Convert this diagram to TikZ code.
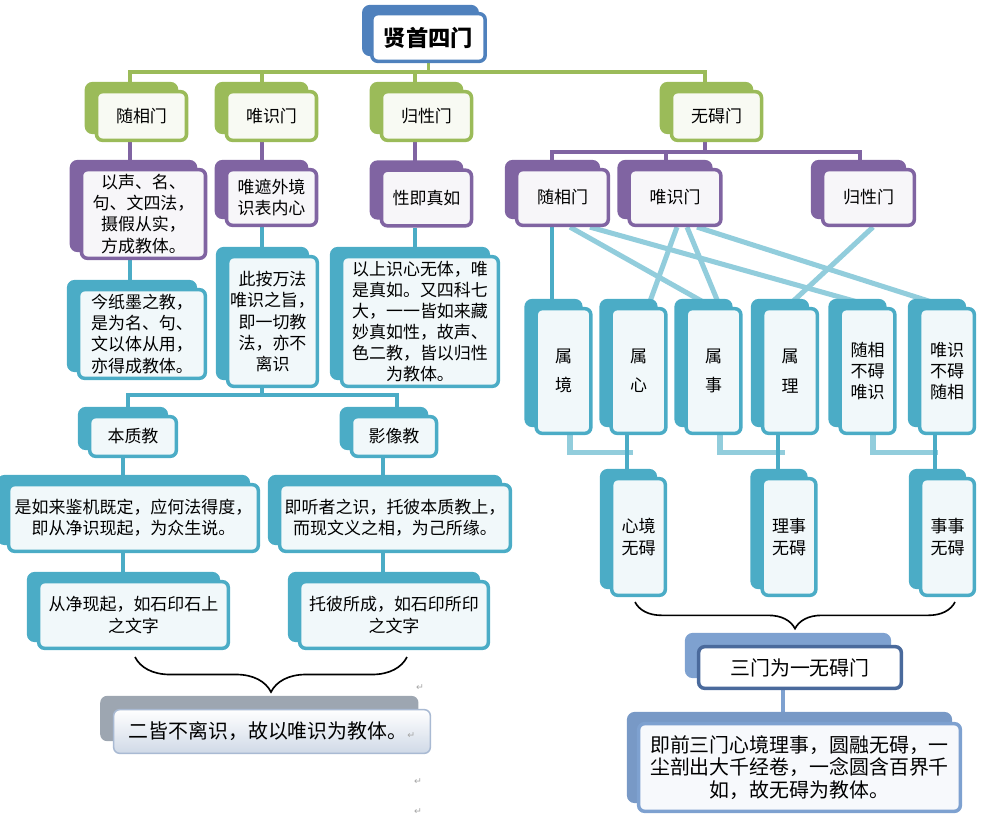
\documentclass[tikz,border=0pt]{standalone}
\usepackage{fontspec}
\setmainfont{Noto Sans CJK SC}
\newfontfamily\symfont{DejaVu Sans}
\usetikzlibrary{calc,shadows,backgrounds,decorations.pathreplacing}
\definecolor{gcol}{RGB}{155,187,89}
\definecolor{pcol}{RGB}{128,100,162}
\definecolor{bcol}{RGB}{75,172,198}
\definecolor{lcol}{RGB}{146,205,220}
\definecolor{tcol}{RGB}{79,129,189}
\definecolor{graycol}{RGB}{157,166,177}
\definecolor{grayedge}{RGB}{169,186,211}
\definecolor{scol}{RGB}{74,106,156}
\definecolor{slight}{RGB}{126,161,208}

\begin{document}
\begin{tikzpicture}[x=0.03cm,y=-0.03cm,
    box/.style={rounded corners=0.18cm,line width=3pt,align=center,inner sep=2pt,font=\fontsize{14.5}{18}\selectfont},
    gbox/.style={box,draw=gcol,fill=gcol!7,copy shadow={shadow xshift=-0.3cm,shadow yshift=0.24cm,fill=gcol,draw=gcol}},
    pbox/.style={box,draw=pcol,fill=pcol!6,copy shadow={shadow xshift=-0.3cm,shadow yshift=0.24cm,fill=pcol,draw=pcol}},
    bbox/.style={box,draw=bcol,fill=bcol!8,copy shadow={shadow xshift=-0.3cm,shadow yshift=0.24cm,fill=bcol,draw=bcol}},
    tbox/.style={box,draw=tcol,fill=white,font=\fontsize{19}{22}\selectfont\bfseries,copy shadow={shadow xshift=-0.24cm,shadow yshift=0.21cm,fill=tcol,draw=tcol}},
    grbox/.style={box,line width=1.3pt,draw=grayedge,top color=white,bottom color=grayedge!55,font=\fontsize{17}{20}\selectfont,copy shadow={shadow xshift=-0.38cm,shadow yshift=0.39cm,fill=graycol,draw=graycol}},
    sbox/.style={box,draw=scol,fill=white,font=\fontsize{17}{20}\selectfont,copy shadow={shadow xshift=-0.36cm,shadow yshift=0.36cm,fill=slight,draw=slight}},
    fbox/.style={box,draw=slight,fill=slight!6,font=\fontsize{17}{19}\selectfont,copy shadow={shadow xshift=-0.3cm,shadow yshift=0.3cm,fill=slight!95!black,draw=slight!95!black}},
    gsz/.style={minimum width=2.7cm,minimum height=1.46cm},
    rsz/.style={minimum width=2.75cm,minimum height=1.67cm},
    tall/.style={minimum width=1.64cm,minimum height=3.74cm},
    low/.style={minimum width=1.61cm,minimum height=3.5cm},
    gline/.style={draw=gcol,line width=3.2pt},
    pline/.style={draw=pcol,line width=3.2pt},
    bline/.style={draw=bcol,line width=3pt},
    lline/.style={draw=lcol,line width=4.3pt},
    sline/.style={draw=slight,line width=3.2pt},
    brc/.style={decorate,decoration={brace,mirror,amplitude=#1},line width=1.4pt},
    pmark/.style={font=\symfont\fontsize{8}{8}\selectfont,text=gray!70,inner sep=0pt}]
  \useasboundingbox (0,0) rectangle (982,824);
  \node[tbox,minimum width=3.4cm,minimum height=1.43cm] (title) at (428.5,37.5) {贤首四门};
  \node[gbox,gsz] (sui1) at (141.5,116) {随相门};
  \node[gbox,gsz] (wei1) at (271.5,116) {唯识门};
  \node[gbox,gsz] (gui1) at (426.5,116) {归性门};
  \node[gbox,gsz] (wuai) at (716.5,116) {无碍门};
  \node[pbox,minimum width=3.72cm,minimum height=2.66cm] (p1) at (143.5,214) {以声、名、\\句、文四法，\\摄假从实，\\方成教体。};
  \node[pbox,minimum width=2.7cm,minimum height=1.67cm] (p2) at (271.5,197.5) {唯遮外境\\识表内心};
  \node[pbox,minimum width=2.7cm,minimum height=1.67cm] (p3) at (426.5,198) {性即真如};
  \node[pbox,rsz] (pR1) at (562.5,197.5) {随相门};
  \node[pbox,rsz] (pR2) at (675,197.5) {唯识门};
  \node[pbox,rsz] (pR3) at (868.5,197.5) {归性门};
  \node[bbox,minimum width=3.8cm,minimum height=2.66cm] (b1) at (142,334) {今纸墨之教，\\是为名、句、\\文以体从用，\\亦得成教体。};
  \node[bbox,minimum width=2.63cm,minimum height=3.89cm] (b2) at (272.5,321.5) {此按万法\\唯识之旨，\\即一切教\\法，亦不\\离识};
  \node[bbox,minimum width=4.7cm,minimum height=3.89cm] (b3) at (420,321.5) {以上识心无体，唯\\是真如。又四科七\\大，一一皆如来藏\\妙真如性，故声、\\色二教，皆以归性\\为教体。};
  \node[bbox,minimum width=2.6cm,minimum height=1.19cm] (bz) at (133,436.5) {本质教};
  \node[bbox,minimum width=2.55cm,minimum height=1.19cm] (yx) at (394,436.5) {影像教};
  \node[bbox,minimum width=7.49cm,minimum height=2cm] (bz2) at (133.5,518) {是如来鉴机既定，应何法得度，\\即从净识现起，为众生说。};
  \node[bbox,minimum width=6.92cm,minimum height=2cm] (yx2) at (395,518) {即听者之识，托彼本质教上，\\而现文义之相，为己所缘。};
  \node[bbox,minimum width=5.69cm,minimum height=2cm] (bz3) at (133.5,615) {从净现起，如石印石上\\之文字};
  \node[bbox,minimum width=5.66cm,minimum height=2cm] (yx3) at (394,615) {托彼所成，如石印所印\\之文字};
  \node[grbox,minimum width=9.5cm,minimum height=1.31cm] (gr) at (272,731.5) {二皆不离识，故以唯识为教体。{\symfont\fontsize{8}{8}\selectfont\color{gray!70}↵}};
  \node[bbox,tall] (s1) at (563.5,371) {属\\[7pt]境};
  \node[bbox,tall] (s2) at (638.5,371) {属\\[7pt]心};
  \node[bbox,tall] (s3) at (713.5,371) {属\\[7pt]事};
  \node[bbox,tall] (s4) at (790,371) {属\\[7pt]理};
  \node[bbox,tall] (s5) at (867.5,371) {随相\\不碍\\唯识};
  \node[bbox,tall] (s6) at (947,371) {唯识\\不碍\\随相};
  \node[bbox,low] (w1) at (638.5,537) {心境\\无碍};
  \node[bbox,low] (w2) at (789,537) {理事\\无碍};
  \node[bbox,low] (w3) at (947.5,537) {事事\\无碍};
  \node[sbox,minimum width=6.08cm,minimum height=1.25cm] (sm) at (800,667.5) {三门为一无碍门};
  \node[fbox,minimum width=9.65cm,minimum height=2.63cm] (fin) at (799.5,767.5) {即前三门心境理事，圆融无碍，一\\尘剖出大千经卷，一念圆含百界千\\如，故无碍为教体。};
  \coordinate (brL1) at (135,657);
  \coordinate (brL2) at (407,657);
  \coordinate (brR1) at (635,602);
  \coordinate (brR2) at (955,602);
  \draw[brc=1.05cm] (brL1) -- (brL2);
  \draw[brc=0.8cm] (brR1) -- (brR2);
  \node[pmark] (pm1) at (420,688) {↵};
  \node[pmark] (pm2) at (418,782) {↵};
  \node[pmark] (pm3) at (418,812) {↵};
  \begin{scope}[on background layer]
    \foreach \n/\dx in {sui1/-11.5,wei1/-9.5,gui1/-11.5,wuai/-11.5}
      \draw[gline] (title.south) -- ++(0,9) -| ($(\n.north)+(\dx,0)$);
    \draw[pline] ($(sui1.south)+(-11.5,0)$) -- ($(sui1.south |- p1.north)+(-11.5,0)$);
    \draw[pline] ($(wei1.south)+(-9.5,0)$) -- ($(wei1.south |- p2.north)+(-9.5,0)$);
    \draw[pline] ($(gui1.south)+(-11.5,0)$) -- ($(gui1.south |- p3.north)+(-11.5,0)$);
    \foreach \n/\dx in {pR1/-10.5,pR2/-9,pR3/-8.5}
      \draw[pline] ($(wuai.south)+(-11.5,0)$) -- ++(0,10) -| ($(\n.north)+(\dx,0)$);
    \draw[bline] ($(p1.south)+(-13.5,0)$) -- ($(p1.south |- b1.north)+(-13.5,0)$);
    \draw[bline] ($(p2.south)+(-9.5,0)$) -- ($(p2.south |- b2.north)+(-9.5,0)$);
    \draw[bline] ($(p3.south)+(-11.5,0)$) -- ($(p3.south |- b3.north)+(-11.5,0)$);
    \draw[bline] ($(b2.south)+(-10.5,0)$) -- ++(0,7) -| ($(bz.north)+(-5,0)$);
    \draw[bline] ($(b2.south)+(-10.5,0)$) -- ++(0,7) -| ($(yx.north)+(3,0)$);
    \draw[bline] ($(bz.south)+(-10,0)$) -- ($(bz.south |- bz2.north)+(-10,0)$);
    \draw[bline] ($(bz2.south)+(-10.5,0)$) -- ($(bz2.south |- bz3.north)+(-10.5,0)$);
    \draw[bline] ($(yx.south)+(-11,0)$) -- ($(yx.south |- yx2.north)+(-11,0)$);
    \draw[bline] ($(yx2.south)+(-12,0)$) -- ($(yx2.south |- yx3.north)+(-12,0)$);
    \draw[bline] ($(pR1.south)+(-10.5,0)$) -- ($(pR1.south |- s1.north)+(-10.5,0)$);
    \draw[lline] ($(pR1.south)+(7.5,0)$) -- ($(s3.north)+(-1.5,0)$);
    \draw[lline] ($(pR1.south)+(27.5,0)$) -- ($(s5.north)+(7.5,0)$);
    \draw[lline] ($(pR2.south)+(2,0)$) -- ($(s2.north)+(9.5,0)$);
    \draw[lline] ($(pR2.south)+(12,0)$) -- ($(s3.north)+(6.5,0)$);
    \draw[lline] ($(pR2.south)+(22,0)$) -- ($(s6.north)+(0,0)$);
    \draw[lline] ($(pR3.south)+(4.5,0)$) -- ($(s4.north)+(-3,0)$);
    \draw[lline] ($(s1.south)+(6.5,0)$) |- ($(w1.north)+(-5.5,-24)$);
    \draw[bline] ($(s2.south)+(-11.5,0)$) -- ($(s2.south |- w1.north)+(-11.5,0)$);
    \draw[lline] ($(s3.south)+(6.5,0)$) |- ($(w2.north)+(-4,-24)$);
    \draw[bline] ($(s4.south)+(-12,0)$) -- ($(s4.south |- w2.north)+(-12,0)$);
    \draw[lline] ($(s5.south)+(5.5,0)$) |- ($(w3.north)+(-9.5,-24)$);
    \draw[bline] ($(s6.south)+(-12,0)$) -- ($(s6.south |- w3.north)+(-12,0)$);
    \draw[sline] ($(sm.south)+(-17,0)$) -- ($(sm.south |- fin.north)+(-17,0)$);
  \end{scope}
\end{tikzpicture}
\end{document}
